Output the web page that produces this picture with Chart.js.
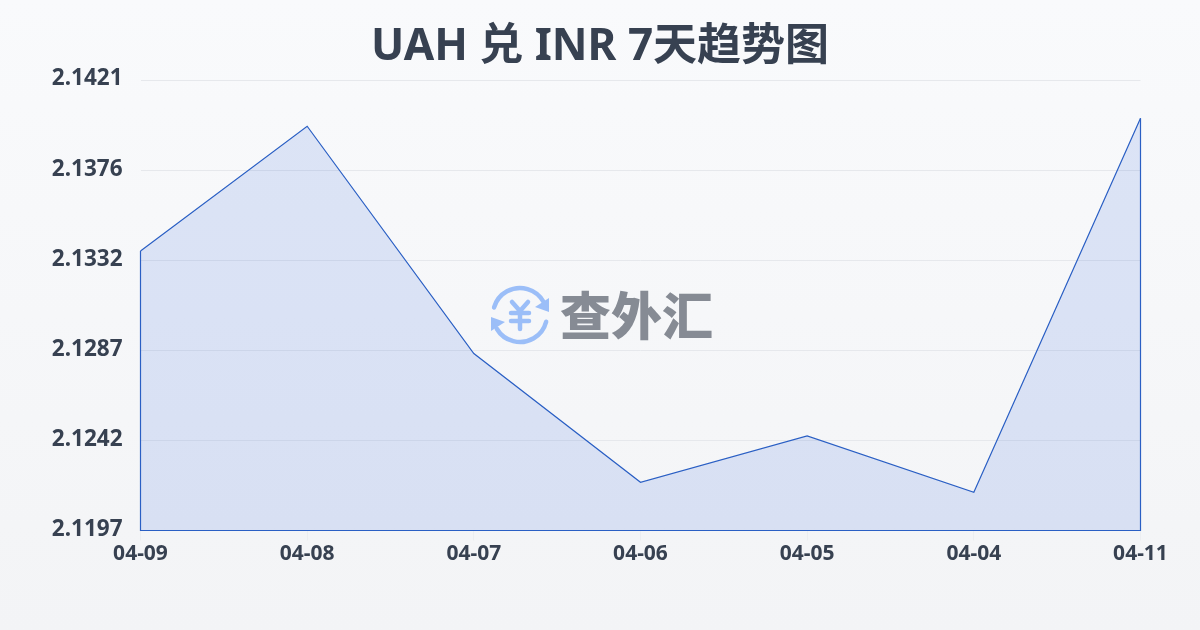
<!DOCTYPE html>
<html>
<head>
<meta charset="utf-8">
<title>UAH 兑 INR 7天趋势图</title>
<script src="https://cdn.jsdelivr.net/npm/chart.js@4"></script>
<style>
  html, body { margin: 0; padding: 0; }
  body { width: 1200px; height: 630px; overflow: hidden; background: linear-gradient(180deg, #f9fafc 0%, #f3f4f6 100%); }
  canvas { display: block; }
</style>
</head>
<body>
<canvas id="grafica_tendencia" width="1200" height="630"></canvas>
<script>
const fechas = ['04-09', '04-08', '04-07', '04-06', '04-05', '04-04', '04-11'];
const valores = [2.1336, 2.1398, 2.1285, 2.1221, 2.1244, 2.1216, 2.1402];
const etiquetasY = ['2.1197', '2.1242', '2.1287', '2.1332', '2.1376', '2.1421'];
const minY = 2.1197;
const maxY = 2.1421;

const fuente = '"Noto Sans", "Noto Sans CJK SC", sans-serif';
const colorTexto = '#374151';
const colorLinea = '#2a5fc4';

// closes the area outline along the left, bottom and right edges
const contorno = {
  id: 'contorno',
  afterDatasetsDraw(chart) {
    const { ctx, scales: { x, y } } = chart;
    const fondo = y.getPixelForValue(minY);
    const ultimo = fechas.length - 1;
    ctx.save();
    ctx.strokeStyle = colorLinea;
    ctx.lineWidth = 1.2;
    ctx.beginPath();
    ctx.moveTo(x.getPixelForValue(0), y.getPixelForValue(valores[0]));
    ctx.lineTo(x.getPixelForValue(0), fondo);
    ctx.lineTo(x.getPixelForValue(ultimo), fondo);
    ctx.lineTo(x.getPixelForValue(ultimo), y.getPixelForValue(valores[ultimo]));
    ctx.stroke();
    ctx.restore();
  }
};

// watermark logo in the middle of the plot
const marcaAgua = {
  id: 'marcaAgua',
  afterDraw(chart) {
    const ctx = chart.ctx;
    const cx = 520, cy = 315, r = 27;
    ctx.save();
    ctx.strokeStyle = '#9bbef8';
    ctx.fillStyle = '#9bbef8';
    ctx.lineWidth = 4.5;
    ctx.lineCap = 'round';
    ctx.lineJoin = 'round';
    ctx.beginPath();
    ctx.arc(cx, cy, r, Math.PI * 1.09, Math.PI * 1.84);
    ctx.stroke();
    ctx.beginPath();
    ctx.arc(cx, cy, r, Math.PI * 0.08, Math.PI * 0.83);
    ctx.stroke();
    ctx.beginPath();
    ctx.moveTo(549, 298); ctx.lineTo(549, 312); ctx.lineTo(535, 307);
    ctx.closePath();
    ctx.fill();
    ctx.beginPath();
    ctx.moveTo(491, 317); ctx.lineTo(491, 331); ctx.lineTo(505, 322);
    ctx.closePath();
    ctx.fill();
    ctx.lineWidth = 4.5;
    ctx.beginPath();
    ctx.moveTo(512, 302); ctx.lineTo(520, 311); ctx.lineTo(528, 302);
    ctx.moveTo(511, 313); ctx.lineTo(529, 313);
    ctx.moveTo(511, 321); ctx.lineTo(529, 321);
    ctx.moveTo(520, 311); ctx.lineTo(520, 329);
    ctx.stroke();
    ctx.fillStyle = '#868b94';
    ctx.font = '900 51px "Noto Sans CJK SC", sans-serif';
    ctx.textAlign = 'left';
    ctx.textBaseline = 'middle';
    ctx.fillText('查外汇', 560, 316);
    ctx.restore();
  }
};

new Chart(document.getElementById('grafica_tendencia').getContext('2d'), {
  type: 'line',
  data: {
    labels: fechas,
    datasets: [{
      data: valores,
      borderColor: colorLinea,
      borderWidth: 1.2,
      backgroundColor: 'rgba(59, 110, 224, 0.15)',
      fill: 'start',
      tension: 0,
      pointRadius: 0
    }]
  },
  options: {
    responsive: false,
    animation: false,
    plugins: {
      legend: { display: false },
      tooltip: { enabled: false },
      title: {
        display: true,
        text: 'UAH 兑 INR 7天趋势图',
        color: colorTexto,
        font: { family: fuente, size: 44, weight: 'bold', lineHeight: 1.2 },
        padding: { top: 21, bottom: 6.2 }
      }
    },
    scales: {
      x: {
        afterFit(scale) { scale.height = 99.5; },
        border: { display: false },
        grid: { drawOnChartArea: false, drawTicks: true, tickLength: 10, tickColor: '#eceef1' },
        ticks: { color: colorTexto, padding: 1, maxRotation: 0, autoSkip: false, font: { family: fuente, size: 21, weight: 'bold' } }
      },
      y: {
        min: minY,
        max: maxY,
        afterFit(scale) { scale.width = 140.5; },
        afterBuildTicks(scale) {
          // ticks are evenly spaced on the axis, labels come rounded
          scale.ticks = etiquetasY.map((t, i) => ({ value: minY + (maxY - minY) * i / (etiquetasY.length - 1) }));
        },
        border: { display: false },
        grid: { color: '#e6e8ec', lineWidth: 1, drawTicks: false },
        ticks: {
          color: colorTexto,
          padding: 18,
          labelOffset: -1,
          font: { family: fuente, size: 22.5, weight: 'bold' },
          callback: (v, i) => etiquetasY[i]
        }
      },
      // empty right axis only keeps the margin, so the title stays centred on the page
      margenDerecho: {
        axis: 'y',
        position: 'right',
        afterFit(scale) { scale.width = 59.5; },
        border: { display: false },
        grid: { display: false },
        ticks: { display: false }
      }
    }
  },
  plugins: [contorno, marcaAgua]
});
</script>
</body>
</html>
